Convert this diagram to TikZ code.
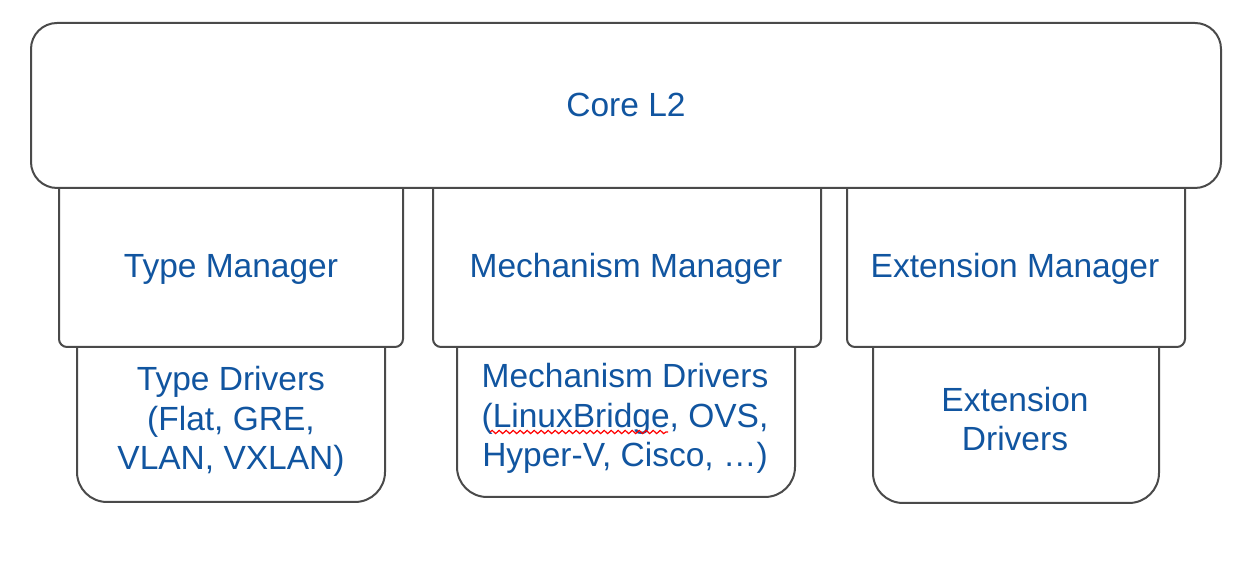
\documentclass[tikz,border=0pt]{standalone}
\usepackage{fontspec}
\setmainfont{Liberation Sans}
\usepackage{xcolor}
\usepackage{tikz}
\usetikzlibrary{decorations.pathmorphing}
\definecolor{boxline}{HTML}{4A4A4A}
\definecolor{boxtext}{HTML}{1155A0}
\tikzset{layer box/.style ={draw=boxline, line width=1pt, fill=white}}
\tikzset{layer text/.style ={text=boxtext, align=center, anchor=base, inner sep=0pt, font=\fontsize{16.75}{19.9}\selectfont}}

\begin{document}
\begin{tikzpicture}[x=0.5pt, y=-0.5pt]
\useasboundingbox (0,0) rectangle (1260,576);
% drivers
\draw[layer box, rounded corners=15pt] (77,347) -- (77,502) -- (385,502) -- (385,347);
\draw[layer box, rounded corners=15pt] (457,347) -- (457,497) -- (795,497) -- (795,347);
\draw[layer box, rounded corners=15pt] (873,347) -- (873,503) -- (1159,503) -- (1159,347);
% managers
\draw[layer box, rounded corners=4pt] (59,188) -- (59,347) -- (403,347) -- (403,188);
\draw[layer box, rounded corners=4pt] (433,188) -- (433,347) -- (821,347) -- (821,188);
\draw[layer box, rounded corners=4pt] (847,188) -- (847,347) -- (1185,347) -- (1185,188);
% core
\draw[layer box, rounded corners=13pt] (31,23) rectangle (1221,188);

% base of a multi-line node is its last line
\node[layer text] (core) at (626,117) {Core L2};
\node[layer text] (typemgr) at (231,278) {Type Manager};
\node[layer text] (mechmgr) at (626,278) {Mechanism Manager};
\node[layer text] (extmgr) at (1015,278) {Extension Manager};
\node[layer text] (typedrv) at (231,470) {Type Drivers\\(Flat, GRE,\\VLAN, VXLAN)};
\node[layer text] (mechdrv) at (625,467) {Mechanism Drivers\\(LinuxBridge, OVS,\\Hyper-V, Cisco, …)};
\node[layer text] (extdrv) at (1015,451) {Extension\\Drivers};
\draw[red, line width=0.6pt, decorate, decoration={snake, amplitude=0.8pt, segment length=3.5pt}] (490,432) -- (668,432);
\end{tikzpicture}
\end{document}
